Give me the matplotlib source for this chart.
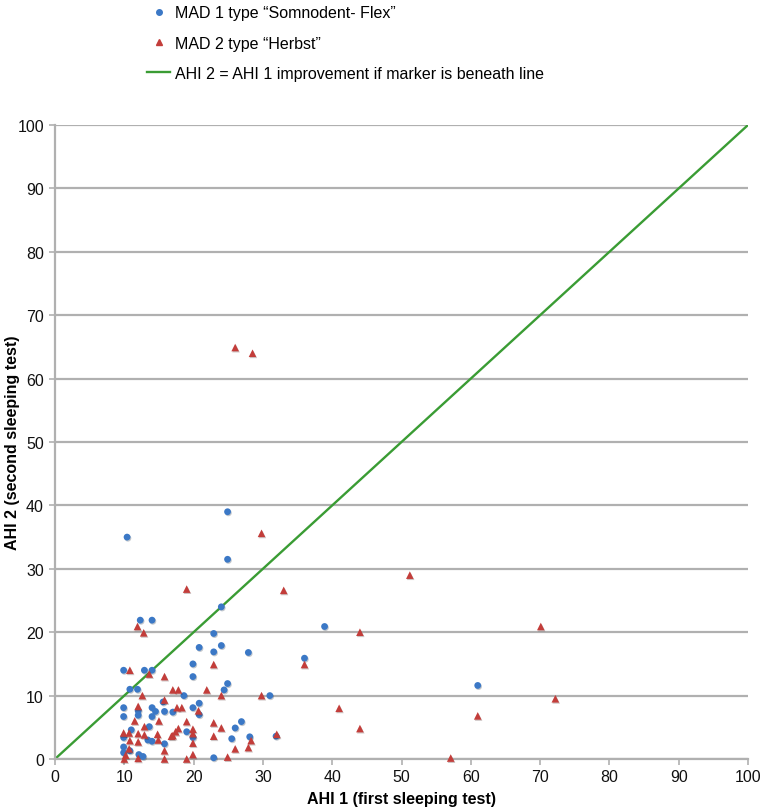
import matplotlib
matplotlib.use("Agg")
import matplotlib.pyplot as plt
from matplotlib.lines import Line2D
import matplotlib.patheffects as pe

plt.rcParams['font.family'] = ['Liberation Sans', 'DejaVu Sans']

# MAD 1 type "Somnodent- Flex"  (AHI 1, AHI 2)
mad1_ahi1 = [10.4, 24.9, 24.9, 24.0, 38.9, 36.0, 61.0, 31.0, 31.9, 27.9,
             22.9, 20.8, 22.9, 24.0, 19.9, 19.9, 24.9, 24.4, 18.6, 19.9,
             20.8, 20.8, 17.0, 19.0, 19.9, 22.9, 26.0, 26.9, 25.5, 28.1,
             12.3, 14.0, 9.9, 12.9, 14.0, 10.8, 11.9, 9.9, 9.9, 12.0,
             12.0, 14.0, 14.5, 15.6, 15.8, 14.0, 11.0, 13.6, 9.9, 13.4,
             14.0, 15.8, 9.9, 9.9, 10.8, 12.1, 12.7]
mad1_ahi2 = [35.0, 39.0, 31.5, 24.0, 20.9, 15.9, 11.6, 10.0, 3.6, 16.8,
             19.8, 17.6, 16.9, 17.9, 15.0, 13.0, 11.9, 10.9, 10.0, 8.1,
             8.8, 7.0, 7.4, 4.3, 3.4, 0.2, 4.9, 5.9, 3.2, 3.5,
             21.9, 21.9, 14.0, 14.0, 14.0, 11.0, 11.0, 8.1, 6.7, 7.6,
             6.9, 8.1, 7.5, 9.0, 7.5, 6.7, 4.6, 5.1, 3.4, 3.0,
             2.8, 2.4, 1.9, 1.0, 1.3, 0.7, 0.4]

# MAD 2 type "Herbst"  (AHI 1, AHI 2)
mad2_ahi1 = [26.0, 28.5, 29.8, 19.0, 33.0, 51.2, 44.0, 70.1, 72.2, 41.0,
             44.0, 61.0, 57.1, 36.0, 29.8, 32.0, 22.9, 24.0, 21.9, 17.0,
             17.8, 17.6, 18.3, 20.7, 19.0, 17.8, 17.4, 17.0, 19.9, 19.9,
             19.9, 19.9, 19.0, 22.9, 22.9, 24.0, 28.3, 26.0, 27.9, 24.9,
             11.9, 12.8, 10.8, 13.6, 15.8, 12.6, 15.8, 12.0, 11.5, 15.0,
             12.9, 9.9, 10.7, 12.0, 12.9, 14.8, 16.8, 10.8, 12.0, 14.9,
             10.7, 10.2, 12.0, 10.0, 15.8, 15.8]
mad2_ahi2 = [64.9, 64.0, 35.6, 26.8, 26.6, 29.0, 20.0, 20.9, 9.5, 8.0,
             4.8, 6.8, 0.15, 14.9, 10.0, 3.9, 14.9, 10.0, 10.9, 10.9,
             10.9, 8.1, 8.1, 7.6, 5.9, 4.8, 4.3, 3.7, 4.7, 4.0,
             2.5, 0.7, 0.0, 5.7, 3.6, 4.9, 2.9, 1.6, 1.8, 0.3,
             20.9, 19.9, 14.0, 13.4, 13.0, 10.0, 9.3, 8.3, 6.0, 6.0,
             5.1, 4.1, 4.1, 4.0, 3.8, 3.9, 3.6, 2.9, 2.7, 3.0,
             1.6, 0.6, 0.1, 0.0, 1.3, 0.0]

identity = [0, 100]
ticks = [0, 10, 20, 30, 40, 50, 60, 70, 80, 90, 100]

blue = '#3b78c6'
red = '#c33d3a'
green = '#3a9c34'
grey = '#b0b0b0'

fig = plt.figure(figsize=(7.61, 8.12), dpi=100)
ax = fig.add_axes([55 / 761, 52 / 812, 693 / 761, 634 / 812])

shadow = [pe.SimplePatchShadow(offset=(0.6, -0.8), alpha=0.25), pe.Normal()]
ax.plot(identity, identity, color=green, lw=1.7, zorder=2)
ax.scatter(mad1_ahi1, mad1_ahi2, s=24, marker='o', color=blue, linewidths=0,
           zorder=3, path_effects=shadow, clip_on=False)
ax.scatter(mad2_ahi1, mad2_ahi2, s=30, marker='^', color=red, linewidths=0,
           zorder=3, path_effects=shadow, clip_on=False)

ax.set_xlim(0, 100)
ax.set_ylim(0, 100)
ax.set_xticks(ticks)
ax.set_yticks(ticks)
ax.grid(axis='y', color=grey, lw=1.6)
ax.set_axisbelow(True)
for s in ['top', 'right']:
    ax.spines[s].set_visible(False)
for s in ['left', 'bottom']:
    ax.spines[s].set_color(grey)
    ax.spines[s].set_linewidth(1.6)
ax.tick_params(axis='both', color=grey, width=1.2, length=4, labelsize=11.5,
               labelcolor='#111111')
ax.tick_params(axis='y', pad=4)

ax.set_xlabel('AHI 1 (first sleeping test)', fontsize=11.5, fontweight='bold', labelpad=5)
ax.set_ylabel('AHI 2 (second sleeping test)', fontsize=11.5, fontweight='bold')
ax.yaxis.set_label_coords(-0.05, 0.5)

handles = [
    Line2D([], [], marker='o', ls='none', color=blue, markersize=4),
    Line2D([], [], marker='^', ls='none', color=red, markersize=4),
    Line2D([], [], color=green, lw=1.7),
]
labels = ['MAD 1 type \u201cSomnodent- Flex\u201d', 'MAD 2 type \u201cHerbst\u201d',
          'AHI 2 = AHI 1 improvement if marker is beneath line']
fig.legend(handles, labels, loc='upper left', bbox_to_anchor=(141 / 761, 1.0),
           frameon=False, fontsize=11.5, labelspacing=0.95, handlelength=1.4,
           handletextpad=0.3, borderaxespad=0)

fig.savefig('out.png', dpi=100)
